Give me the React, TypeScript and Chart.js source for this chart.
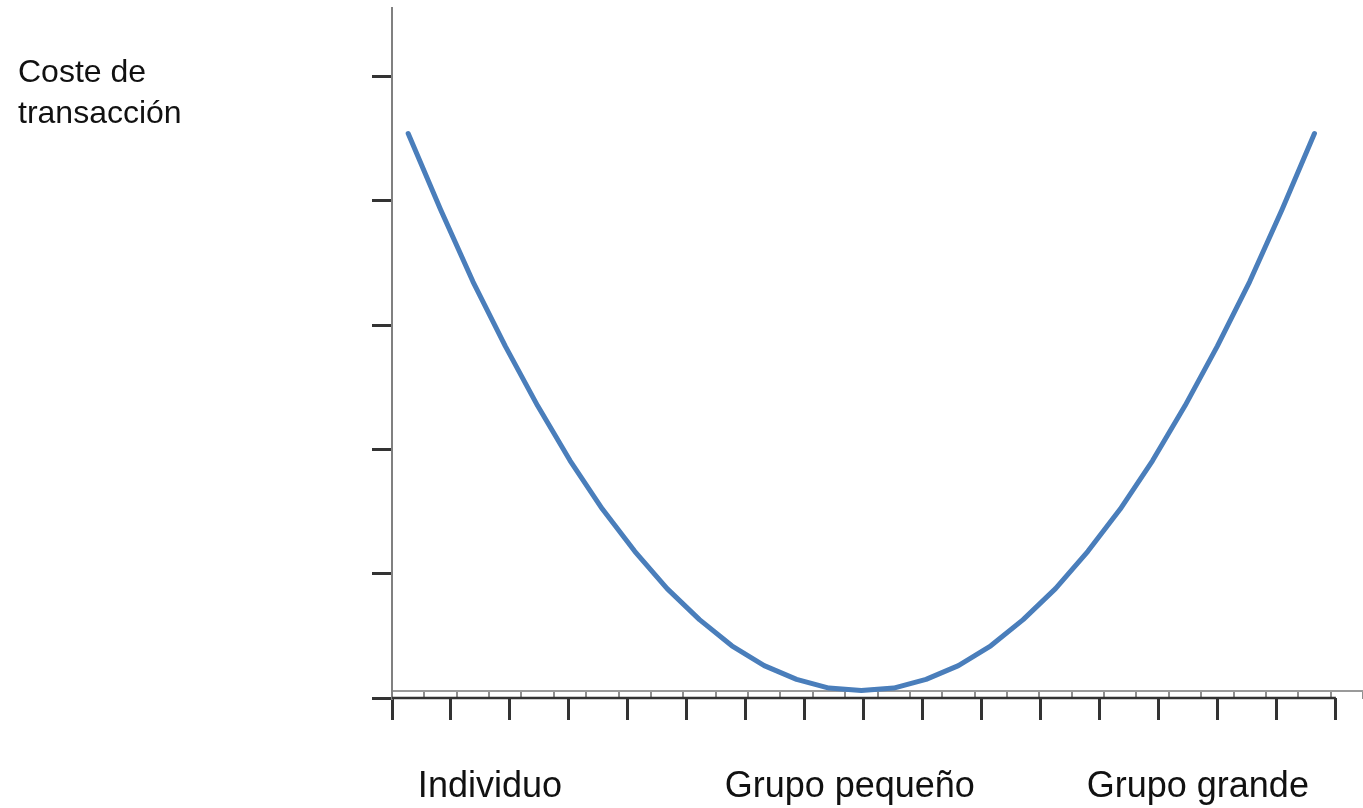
import { useEffect, useRef } from "react";
import { Chart, registerables } from "chart.js";

Chart.register(...registerables);

// ---- data ----
const categories = [
  "1", "2", "3", "4", "5", "6", "7", "8", "9", "10",
  "11", "12", "13", "14", "15", "16", "17", "18", "19", "20",
  "21", "22", "23", "24", "25", "26", "27", "28", "29", "30",
];
const costValues = [
  4.54, 3.93, 3.35, 2.83, 2.35, 1.91, 1.52, 1.18, 0.88, 0.63,
  0.42, 0.26, 0.15, 0.08, 0.06, 0.08, 0.15, 0.26, 0.42, 0.63,
  0.88, 1.18, 1.52, 1.91, 2.35, 2.83, 3.35, 3.93, 4.54,
];
const yTickValues = [0, 1, 2, 3, 4, 5];
const yMax = 5.55;
const categoryAxisAt = 0.056;
const rulerTickValues = [0, 1, 2, 3, 4, 5, 6, 7, 8, 9, 10, 11, 12, 13, 14, 15, 16];
const rulerMax = 16.46;
const rulerLine = [
  { x: 0, y: 0 },
  { x: 16, y: 0 },
];
const groupLabels = ["Individuo", "Grupo pequeño", "Grupo grande"];
const groupLabelAt = [1.66, 7.76, 13.66];
const axisTitleLines = ["Coste de", "transacción"];
const axisTitleAt = [4.86];

const FONT = "'Liberation Sans', Arial, sans-serif";

export default function App() {
  const canvasRef = useRef<HTMLCanvasElement | null>(null);

  useEffect(() => {
    const canvas = canvasRef.current;
    if (!canvas) return;
    const chart = new Chart(canvas, {
      type: "line",
      data: {
        labels: categories,
        datasets: [
          {
            label: "Coste",
            data: costValues,
            xAxisID: "x",
            yAxisID: "y",
            borderColor: "#4a7ebb",
            borderWidth: 5,
            borderCapStyle: "round",
            borderJoinStyle: "round",
            tension: 0,
            pointRadius: 0,
            fill: false,
          },
          {
            label: "ruler",
            data: rulerLine as any,
            xAxisID: "x2",
            yAxisID: "y",
            borderColor: "#333333",
            borderWidth: 2.5,
            pointRadius: 0,
            fill: false,
            clip: false as any,
          },
        ],
      },
      options: {
        animation: false,
        responsive: false,
        layout: { padding: { top: 8, left: 18, right: 0, bottom: 0 } },
        plugins: {
          legend: { display: false },
          tooltip: { enabled: false },
          title: { display: false },
        },
        scales: {
          x: {
            type: "category",
            position: { y: categoryAxisAt } as any,
            offset: true,
            grid: {
              display: true,
              offset: true,
              drawOnChartArea: false,
              drawTicks: true,
              tickLength: 7,
              color: "#8f8f8f",
              lineWidth: 2,
            },
            border: { display: true, color: "#9a9a9a", width: 2 },
            ticks: { display: false },
            afterFit: (s: any) => {
              s.paddingLeft = 0;
              s.paddingRight = 0;
            },
          },
          x2: {
            type: "linear",
            position: "bottom",
            min: 0,
            max: rulerMax,
            weight: 0,
            grid: {
              display: true,
              drawOnChartArea: false,
              drawTicks: true,
              tickLength: 22,
              color: "#333333",
              lineWidth: 3,
            },
            border: { display: false },
            ticks: { display: false },
            afterBuildTicks: (s: any) => {
              s.ticks = rulerTickValues.map((v) => ({ value: v }));
            },
            afterFit: (s: any) => {
              s.height = 22;
              s.paddingLeft = 0;
              s.paddingRight = 0;
            },
          },
          x3: {
            type: "linear",
            position: "bottom",
            min: 0,
            max: rulerMax,
            weight: 1,
            grid: { display: false, drawTicks: false },
            border: { display: false },
            ticks: {
              display: true,
              autoSkip: false,
              maxRotation: 0,
              minRotation: 0,
              padding: 45,
              color: "#111111",
              font: { family: FONT, size: 36 },
              callback: (_v: any, i: number) => groupLabels[i],
            },
            afterBuildTicks: (s: any) => {
              s.ticks = groupLabelAt.map((v) => ({ value: v }));
            },
            afterFit: (s: any) => {
              s.height = 88;
              s.paddingLeft = 0;
              s.paddingRight = 0;
            },
          },
          y: {
            type: "linear",
            position: "left",
            min: 0,
            max: yMax,
            weight: 0,
            grid: {
              display: true,
              drawOnChartArea: false,
              drawTicks: true,
              tickLength: 20,
              color: "#333333",
              lineWidth: 3,
            },
            border: { display: true, color: "#808080", width: 2 },
            ticks: { display: false },
            afterBuildTicks: (s: any) => {
              s.ticks = yTickValues.map((v) => ({ value: v }));
            },
            afterFit: (s: any) => {
              s.width = 20;
              s.paddingTop = 0;
              s.paddingBottom = 0;
            },
          },
          y2: {
            type: "linear",
            position: "left",
            min: 0,
            max: yMax,
            weight: 1,
            grid: { display: false, drawTicks: false },
            border: { display: false },
            ticks: {
              display: true,
              crossAlign: "far",
              padding: 0,
              color: "#111111",
              font: { family: FONT, size: 32, lineHeight: 1.28 },
              callback: () => axisTitleLines,
            },
            afterBuildTicks: (s: any) => {
              s.ticks = axisTitleAt.map((v) => ({ value: v }));
            },
            afterFit: (s: any) => {
              s.width = 354;
              s.paddingTop = 0;
              s.paddingBottom = 0;
            },
          },
        },
      } as any,
    });
    return () => chart.destroy();
  }, []);

  return (
    <div style={{ position: "absolute", left: 0, top: 0, width: 1363, height: 808, background: "#ffffff" }}>
      <canvas ref={canvasRef} width={1363} height={808} style={{ display: "block" }} />
    </div>
  );
}
